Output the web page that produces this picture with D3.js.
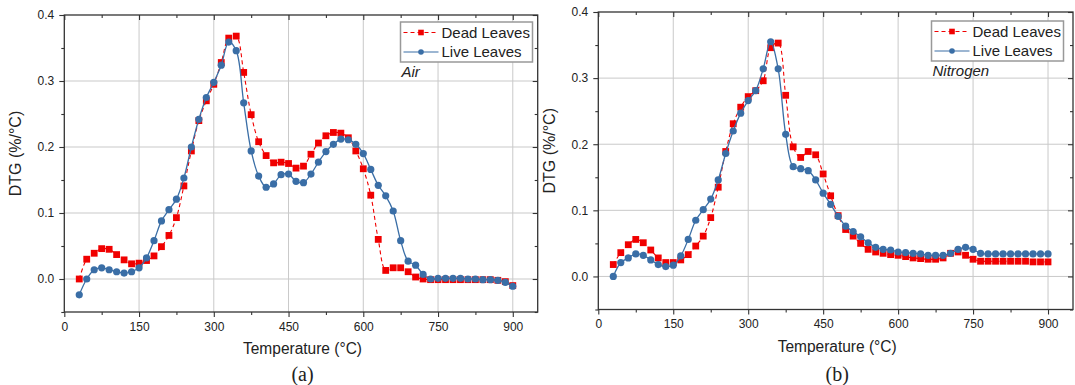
<!DOCTYPE html>
<html>
<head>
<meta charset="utf-8">
<script src="https://cdn.jsdelivr.net/npm/d3@7"></script>
<style>
  html, body { margin: 0; padding: 0; background: #fff; }
  svg { display: block; }
  text { font-family: "Liberation Sans", Arial, sans-serif; fill: #222; }
</style>
</head>
<body>
<svg id="chart" width="1075" height="385"></svg>
<script>
// Temperatures (°C) at which DTG was sampled
const temperature = [30, 45, 60, 75, 90, 105, 120, 135, 150, 165, 180, 195, 210, 225, 240, 255, 270, 285, 300, 315,
  330, 345, 360, 375, 390, 405, 420, 435, 450, 465, 480, 495, 510, 525, 540, 555, 570, 585, 600, 615,
  630, 645, 660, 675, 690, 705, 720, 735, 750, 765, 780, 795, 810, 825, 840, 855, 870, 885, 900];

// (a) Air atmosphere, DTG in %/°C
const airDead = [0.000, 0.030, 0.039, 0.046, 0.045, 0.037, 0.029, 0.023, 0.024, 0.028, 0.035, 0.049, 0.066, 0.093, 0.141, 0.194, 0.240, 0.270, 0.295, 0.328,
  0.365, 0.368, 0.313, 0.249, 0.208, 0.187, 0.176, 0.177, 0.175, 0.168, 0.171, 0.189, 0.206, 0.217, 0.222, 0.221, 0.214, 0.194, 0.167, 0.127,
  0.060, 0.013, 0.017, 0.017, 0.011, 0.003, 0.000, -0.001, -0.001, -0.001, -0.001, -0.001, -0.001, -0.001, -0.001, -0.001, -0.002, -0.004, -0.010];
const airLive = [-0.024, 0.000, 0.014, 0.017, 0.014, 0.011, 0.009, 0.011, 0.017, 0.032, 0.058, 0.088, 0.105, 0.121, 0.153, 0.200, 0.242, 0.275, 0.298, 0.324,
  0.359, 0.346, 0.267, 0.194, 0.156, 0.139, 0.144, 0.158, 0.159, 0.148, 0.146, 0.159, 0.177, 0.193, 0.204, 0.212, 0.211, 0.204, 0.190, 0.166,
  0.142, 0.126, 0.103, 0.058, 0.027, 0.021, 0.007, 0.000, 0.001, 0.001, 0.001, 0.001, 0.000, 0.000, -0.001, -0.001, -0.002, -0.005, -0.011];

// (b) Nitrogen atmosphere, DTG in %/°C
const n2Dead = [0.018, 0.036, 0.048, 0.056, 0.051, 0.040, 0.028, 0.021, 0.021, 0.025, 0.033, 0.046, 0.061, 0.089, 0.135, 0.189, 0.231, 0.256, 0.272, 0.281,
  0.296, 0.346, 0.353, 0.274, 0.196, 0.180, 0.189, 0.184, 0.155, 0.122, 0.092, 0.071, 0.061, 0.050, 0.041, 0.037, 0.035, 0.033, 0.032, 0.030,
  0.028, 0.027, 0.026, 0.026, 0.028, 0.035, 0.037, 0.032, 0.026, 0.023, 0.023, 0.023, 0.023, 0.023, 0.023, 0.023, 0.022, 0.022, 0.022];
const n2Live = [0.000, 0.021, 0.028, 0.034, 0.032, 0.025, 0.018, 0.015, 0.017, 0.031, 0.056, 0.085, 0.101, 0.117, 0.146, 0.186, 0.220, 0.247, 0.266, 0.281,
  0.314, 0.355, 0.314, 0.215, 0.166, 0.163, 0.160, 0.146, 0.126, 0.109, 0.091, 0.076, 0.068, 0.060, 0.051, 0.044, 0.041, 0.040, 0.037, 0.036,
  0.035, 0.034, 0.032, 0.032, 0.032, 0.035, 0.041, 0.044, 0.041, 0.035, 0.034, 0.034, 0.034, 0.034, 0.034, 0.034, 0.034, 0.034, 0.034];

// Axis ticks
const xMajorTicks = [0, 150, 300, 450, 600, 750, 900];
const xMinorTicks = [75, 225, 375, 525, 675, 825];
const yMajorTicks = [0.0, 0.1, 0.2, 0.3, 0.4];
const yMinorTicks = [-0.05, 0.05, 0.15, 0.25, 0.35];

const seriesNames = ["Dead Leaves", "Live Leaves"];
const atmospheres = ["Air", "Nitrogen"];
const panelLabels = ["(a)", "(b)"];

const RED = "#f00000";
const BLUE = "#3a6ea6";
const GRID = "#c9c9c9";
const AXIS = "#333";

const panels = [
  { left: 64.3, right: 537.7, top: 15, bottom: 312, dead: airDead, live: airLive,
    atm: atmospheres[0], label: panelLabels[0], legendRight: 532.5, legendTop: 22 },
  { left: 598.3, right: 1073, top: 12, bottom: 309.5, dead: n2Dead, live: n2Live,
    atm: atmospheres[1], label: panelLabels[1], legendRight: 1063.5, legendTop: 21 }
];

const svg = d3.select("#chart");

panels.forEach(p => {
  const x = d3.scaleLinear().domain([0, 950]).range([p.left, p.right]);
  const y = d3.scaleLinear().domain([-0.05, 0.4]).range([p.bottom, p.top]);
  const g = svg.append("g");

  // gridlines
  g.append("g").selectAll("line").data(xMajorTicks.filter(t => t > 0)).join("line")
    .attr("x1", d => x(d)).attr("x2", d => x(d)).attr("y1", p.top).attr("y2", p.bottom)
    .attr("stroke", GRID).attr("stroke-width", 1);
  g.append("g").selectAll("line").data(yMajorTicks.filter(t => t < 0.4)).join("line")
    .attr("x1", p.left).attr("x2", p.right).attr("y1", d => y(d)).attr("y2", d => y(d))
    .attr("stroke", GRID).attr("stroke-width", 1);

  // axes: bottom/left outward, top/right mirrored inward
  const styleAxis = sel => {
    sel.select(".domain").remove();
    sel.selectAll(".tick line").attr("stroke", AXIS).attr("stroke-width", 1.1);
    sel.selectAll(".tick text").style("font-size", "12px").attr("fill", "#222");
  };
  g.append("g").attr("transform", `translate(0,${p.bottom})`)
    .call(d3.axisBottom(x).tickValues(xMajorTicks).tickSize(5).tickPadding(5).tickFormat(d3.format("d")))
    .call(styleAxis);
  g.append("g").attr("transform", `translate(0,${p.bottom})`)
    .call(d3.axisBottom(x).tickValues(xMinorTicks).tickSize(3).tickFormat(""))
    .call(styleAxis);
  g.append("g").attr("transform", `translate(${p.left},0)`)
    .call(d3.axisLeft(y).tickValues(yMajorTicks).tickSize(5).tickPadding(5).tickFormat(d3.format(".1f")))
    .call(styleAxis);
  g.append("g").attr("transform", `translate(${p.left},0)`)
    .call(d3.axisLeft(y).tickValues(yMinorTicks).tickSize(3).tickFormat(""))
    .call(styleAxis);
  g.append("g").attr("transform", `translate(0,${p.top})`)
    .call(d3.axisTop(x).tickValues(xMajorTicks).tickSize(-5).tickFormat(""))
    .call(styleAxis);
  g.append("g").attr("transform", `translate(0,${p.top})`)
    .call(d3.axisTop(x).tickValues(xMinorTicks).tickSize(-3).tickFormat(""))
    .call(styleAxis);
  g.append("g").attr("transform", `translate(${p.right},0)`)
    .call(d3.axisRight(y).tickValues(yMajorTicks).tickSize(-5).tickFormat(""))
    .call(styleAxis);
  g.append("g").attr("transform", `translate(${p.right},0)`)
    .call(d3.axisRight(y).tickValues(yMinorTicks).tickSize(-3).tickFormat(""))
    .call(styleAxis);

  // frame
  g.append("rect").attr("x", p.left).attr("y", p.top)
    .attr("width", p.right - p.left).attr("height", p.bottom - p.top)
    .attr("fill", "none").attr("stroke", AXIS).attr("stroke-width", 1.3);

  const line = d3.line().x(d => x(d[0])).y(d => y(d[1])).curve(d3.curveCatmullRom.alpha(0.5));
  const deadPts = temperature.map((t, i) => [t, p.dead[i]]);
  const livePts = temperature.map((t, i) => [t, p.live[i]]);

  // Dead leaves: dashed red with squares
  g.append("path").datum(deadPts).attr("d", line)
    .attr("fill", "none").attr("stroke", RED).attr("stroke-width", 1.1).attr("stroke-dasharray", "4,3");
  g.append("g").selectAll("rect").data(deadPts).join("rect")
    .attr("x", d => x(d[0]) - 3.4).attr("y", d => y(d[1]) - 3.4)
    .attr("width", 6.8).attr("height", 6.8).attr("fill", RED);

  // Live leaves: solid blue with circles
  g.append("path").datum(livePts).attr("d", line)
    .attr("fill", "none").attr("stroke", BLUE).attr("stroke-width", 1.3);
  g.append("g").selectAll("circle").data(livePts).join("circle")
    .attr("cx", d => x(d[0])).attr("cy", d => y(d[1])).attr("r", 3.6).attr("fill", BLUE);

  // legend
  const lw = 132, lh = 40;
  const lx = p.legendRight - lw, ly = p.legendTop;
  const lg = g.append("g");
  lg.append("rect").attr("x", lx).attr("y", ly).attr("width", lw).attr("height", lh)
    .attr("fill", "#fff").attr("stroke", "#999").attr("stroke-width", 1.5);
  const rows = [
    { name: seriesNames[0], color: RED, dash: "4,3", shape: "square" },
    { name: seriesNames[1], color: BLUE, dash: null, shape: "circle" }
  ];
  rows.forEach((r, i) => {
    const cy = ly + 10.5 + i * 19.5;
    lg.append("line").attr("x1", lx + 3).attr("x2", lx + 38).attr("y1", cy).attr("y2", cy)
      .attr("stroke", r.color).attr("stroke-width", 1.2).attr("stroke-dasharray", r.dash);
    if (r.shape === "square") {
      lg.append("rect").attr("x", lx + 20.5 - 2.8).attr("y", cy - 2.8).attr("width", 5.6).attr("height", 5.6).attr("fill", r.color);
    } else {
      lg.append("circle").attr("cx", lx + 20.5).attr("cy", cy).attr("r", 2.8).attr("fill", r.color);
    }
    lg.append("text").attr("x", lx + 41).attr("y", cy + 5.3).style("font-size", "15px").text(r.name);
  });

  // atmosphere label
  g.append("text").attr("x", lx + 1).attr("y", ly + 55).style("font-size", "15px")
    .style("font-style", "italic").text(p.atm);

  // axis titles
  const cx = (p.left + p.right) / 2 + 1.5;
  g.append("text").attr("x", cx).attr("y", p.bottom + 42).attr("text-anchor", "middle")
    .style("font-size", "16px").attr("textLength", 119).attr("lengthAdjust", "spacingAndGlyphs")
    .text("Temperature (°C)");
  g.append("text").attr("transform", `translate(${p.left - 43},${(p.top + p.bottom) / 2 - 10}) rotate(-90)`)
    .attr("text-anchor", "middle").style("font-size", "16px")
    .text("DTG (%/°C)");

  // panel label
  g.append("text").attr("x", cx).attr("y", 381).attr("text-anchor", "middle")
    .style("font-family", "'Liberation Serif', 'Times New Roman', serif").style("font-size", "20px")
    .attr("fill", "#000").text(p.label);
});
</script>
</body>
</html>
